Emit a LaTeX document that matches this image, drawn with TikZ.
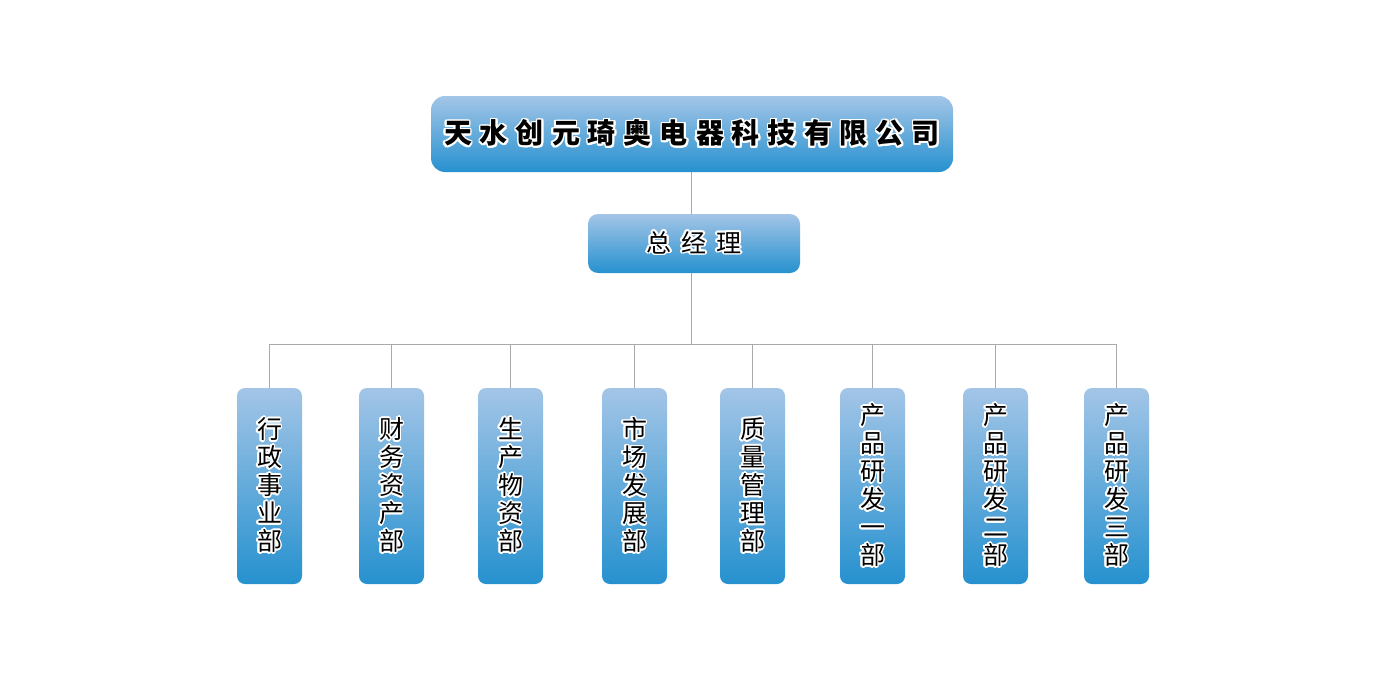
\documentclass[tikz,border=0pt]{standalone}
\usepackage{fontspec}
\newfontfamily\cjk{Noto Sans CJK SC}
\usepackage[copies]{contour}
\contourlength{1.7pt}
\newcommand{\ct}[1]{\contour{white}{#1}}
\definecolor{boxtop}{RGB}{163,197,231}
\definecolor{boxbot}{RGB}{38,145,207}
\definecolor{conncol}{RGB}{170,170,170}
\begin{document}
\begin{tikzpicture}[x=1pt,y=-1pt,
  box/.style={rounded corners=14pt, top color=boxtop, bottom color=boxbot, draw=none, inner sep=0pt, align=center},
  dept/.style={box, rounded corners=8pt, minimum width=65pt, minimum height=196pt, font=\cjk\fontsize{25}{28}\selectfont},
  conn/.style={draw=conncol, line width=0.9pt}]
\path[use as bounding box, fill=white] (0,0) rectangle (1386,680);
\node[box, minimum width=522pt, minimum height=76pt, font=\cjk\bfseries\fontsize{28}{30}\selectfont] (top) at (692,134)
  {\ct{天\kern8pt 水\kern8pt 创\kern8pt 元\kern8pt 琦\kern8pt 奥\kern8pt 电\kern8pt 器\kern8pt 科\kern8pt 技\kern8pt 有\kern8pt 限\kern8pt 公\kern8pt 司}};
\node[box, rounded corners=10pt, minimum width=212pt, minimum height=59pt, font=\cjk\fontsize{25}{28}\selectfont] (gm) at (694,243.5)
  {\ct{总\kern10pt 经\kern10pt 理}};
\coordinate (j) at (691,344);
\node[dept] (d1) at (269.5,486) {\ct{行}\\\ct{政}\\\ct{事}\\\ct{业}\\\ct{部}};
\node[dept] (d2) at (391.5,486) {\ct{财}\\\ct{务}\\\ct{资}\\\ct{产}\\\ct{部}};
\node[dept] (d3) at (510.5,486) {\ct{生}\\\ct{产}\\\ct{物}\\\ct{资}\\\ct{部}};
\node[dept] (d4) at (634.5,486) {\ct{市}\\\ct{场}\\\ct{发}\\\ct{展}\\\ct{部}};
\node[dept] (d5) at (752.5,486) {\ct{质}\\\ct{量}\\\ct{管}\\\ct{理}\\\ct{部}};
\node[dept] (d6) at (872.5,486) {\ct{产}\\\ct{品}\\\ct{研}\\\ct{发}\\\ct{一}\\\ct{部}};
\node[dept] (d7) at (995.5,486) {\ct{产}\\\ct{品}\\\ct{研}\\\ct{发}\\\ct{二}\\\ct{部}};
\node[dept] (d8) at (1116.5,486) {\ct{产}\\\ct{品}\\\ct{研}\\\ct{发}\\\ct{三}\\\ct{部}};
\draw[conn] (top.south -| j) -- (gm.north -| j);
\draw[conn] (gm.south -| j) -- (j);
\foreach \d in {d1,d2,d3,d4,d5,d6,d7,d8} {\draw[conn] (\d.north) |- (j);}
\end{tikzpicture}
\end{document}
